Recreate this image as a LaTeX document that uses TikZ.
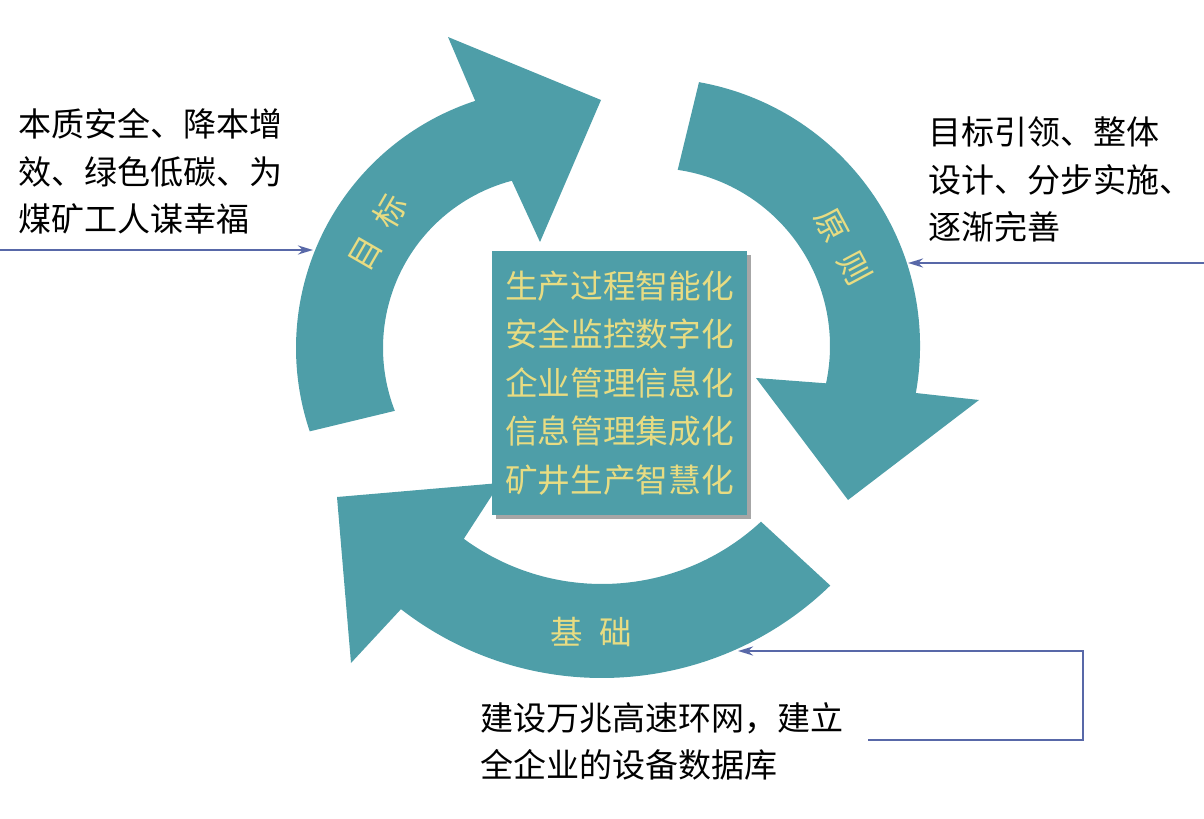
\documentclass[tikz,border=0pt]{standalone}
\usepackage{fontspec}
\setmainfont{Noto Sans CJK SC}
\usetikzlibrary{arrows.meta,calc,shadows}
\definecolor{ringteal}{RGB}{78,158,168}
\definecolor{labelyellow}{RGB}{232,220,130}
\definecolor{linkblue}{RGB}{88,104,168}
\tikzset{ring/.style={fill=ringteal,draw=none},
  ringlabel/.style={text=labelyellow,inner sep=0pt,font=\fontsize{18.5pt}{18.5pt}\selectfont},
  core/.style={fill=ringteal,text=labelyellow,minimum width=5.1cm,minimum height=5.28cm,inner sep=0pt,align=center,
    font=\fontsize{18.6pt}{27.6pt}\selectfont,
    drop shadow={shadow xshift=0.08cm,shadow yshift=-0.08cm,fill=black,opacity=0.35}},
  note/.style={anchor=west,align=left,inner sep=0pt,font=\fontsize{18.8pt}{27pt}\selectfont},
  link/.style={draw=linkblue,line width=1.4pt,-{Stealth[length=0.3cm,width=0.18cm]}}}

\begin{document}
\begin{tikzpicture}
\useasboundingbox (0,0) rectangle (24.08,16.36);

\coordinate (goalc) at (11.12,9.40);
\coordinate (rulec) at (13.04,9.44);
\coordinate (basec) at (12.04,9.36);

\fill[ring] (goalc) ++(198.7:5.20) arc[start angle=198.7,end angle=108.1,radius=5.20]
  -- (8.96,15.62) -- (12.02,14.36) -- (10.80,11.52)
  -- ($(goalc)+(104.8:3.46)$) arc[start angle=104.8,end angle=201.3,radius=3.46] -- cycle;
\fill[ring] (rulec) ++(79.9:5.36) arc[start angle=79.9,end angle=-10.1,radius=5.36]
  -- (19.58,8.36) -- (16.96,6.36) -- (15.12,8.80)
  -- ($(rulec)+(-12.1:3.56)$) arc[start angle=-12.1,end angle=81.7,radius=3.56] -- cycle;
\fill[ring] (basec) ++(-45.9:6.56) arc[start angle=-45.9,end angle=-127.8,radius=6.56]
  -- (7.02,3.10) -- (6.74,6.42) -- (10.00,6.70)
  -- ($(basec)+(-126.2:4.68)$) arc[start angle=-126.2,end angle=-47.2,radius=4.68] -- cycle;

\node[ringlabel,rotate=60] (goal) at (7.55,11.71) {目\hspace{0.5em}标};
\node[ringlabel,rotate=-62] (rule) at (16.86,11.42) {原\hspace{0.5em}则};
\node[ringlabel] (base) at (11.82,3.72) {基\hspace{0.5em}础};

\node[core] (core) at (12.39,8.70) {生产过程智能化\\安全监控数字化\\企业管理信息化\\信息管理集成化\\矿井生产智慧化};

\node[note] (goalnote) at (0.36,12.93) {本质安全、降本增\\效、绿色低碳、为\\煤矿工人谋幸福};
\node[note] (rulenote) at (18.56,12.77) {目标引领、整体\\设计、分步实施、\\逐渐完善};
\node[note] (basenote) at (9.60,1.53) {建设万兆高速环网，建立\\全企业的设备数据库};

\coordinate (goalin) at (0,11.36);
\coordinate (goalend) at (6.26,11.36);
\coordinate (rulein) at (24.08,11.10);
\coordinate (ruleend) at (18.16,11.10);
\coordinate (basein) at (17.36,1.56);
\coordinate (baseend) at (14.76,3.34);
\draw[link] (goalin) -- (goalend);
\draw[link] (rulein) -- (ruleend);
\draw[link] (basein) -- ++(4.3,0) |- (baseend);
\end{tikzpicture}
\end{document}
